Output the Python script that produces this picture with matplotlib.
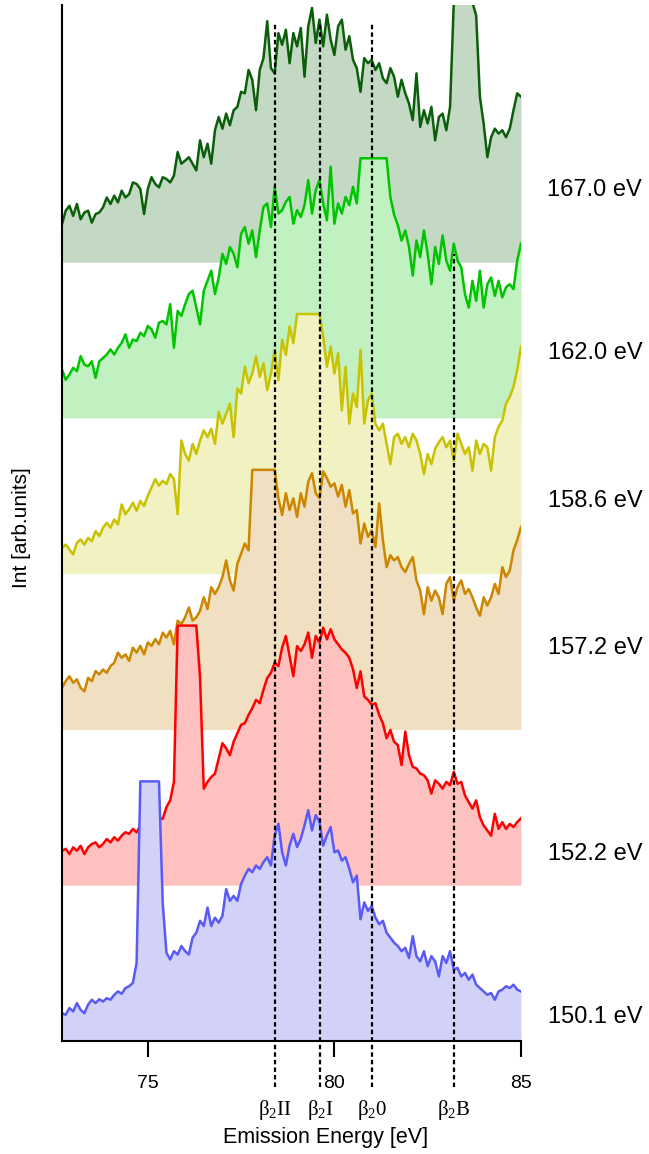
import numpy as np
import matplotlib
matplotlib.use("Agg")
import matplotlib.pyplot as plt
from matplotlib.transforms import blended_transform_factory

plt.rcParams['font.family'] = ['Liberation Sans', 'DejaVu Sans']
plt.rcParams['mathtext.fontset'] = 'custom'
plt.rcParams['mathtext.rm'] = 'Liberation Serif'
plt.rcParams['mathtext.it'] = 'Liberation Serif:italic'
plt.rcParams['mathtext.bf'] = 'Liberation Serif:bold'

# Emission energy channels [eV]
energy = np.round(np.linspace(72.7, 85.0, 124), 2)

# Excitation energies of the stacked spectra, bottom to top
excitation = ['150.1 eV', '152.2 eV', '157.2 eV', '158.6 eV', '162.0 eV', '167.0 eV']

# Intensities (arb. units, detector saturates at 100)
I_150_1 = [10.7, 10.1, 12.7, 11.4, 14.6, 12.0, 10.7, 14.0, 15.9, 14.6,
           16.1, 15.2, 16.5, 15.9, 17.8, 19.1, 18.2, 20.4, 21.1, 22.4,
           30.1, 100, 100, 100, 100, 100, 100, 53.0, 34.0, 31.4,
           34.6, 33.3, 36.6, 34.6, 33.3, 39.8, 41.7, 46.3, 44.3, 51.4,
           44.3, 47.5, 45.6, 48.2, 58.5, 54.0, 55.9, 54.0, 60.5, 63.7,
           66.3, 65.0, 67.6, 66.3, 68.9, 70.8, 67.6, 79.2, 83.7, 72.7,
           67.6, 75.3, 79.8, 74.7, 77.9, 83.1, 88.9, 81.1, 87.0, 84.4,
           75.3, 79.2, 82.4, 72.7, 73.4, 69.5, 70.8, 66.3, 61.1, 63.7,
           46.9, 53.4, 50.1, 52.1, 47.5, 45.0, 46.3, 41.7, 39.8, 37.9,
           36.6, 34.6, 35.9, 32.0, 40.4, 32.7, 30.7, 34.6, 28.8, 32.7,
           30.7, 24.9, 32.7, 30.1, 34.6, 27.5, 28.2, 24.9, 26.2, 23.6,
           25.6, 21.7, 20.4, 19.1, 17.8, 18.5, 15.9, 19.1, 19.8, 21.1,
           20.4, 21.7, 19.8, 19.1]

I_152_2 = [13.3, 14.0, 12.0, 14.6, 13.3, 15.2, 12.0, 14.6, 15.9, 16.5,
           14.6, 15.9, 17.8, 16.5, 18.5, 17.2, 19.1, 20.4, 19.8, 21.7,
           20.4, 23.0, 23.6, 24.3, 24.9, 26.2, 25.8, 25.6, 30.1, 32.7,
           39.8, 100, 100, 100, 100, 100, 100, 80.0, 37.2, 39.8,
           41.7, 43.0, 48.8, 54.7, 52.7, 50.1, 55.3, 58.5, 61.8, 62.4,
           65.6, 68.2, 71.4, 70.1, 75.3, 79.8, 81.8, 85.7, 84.4, 91.5,
           96.0, 88.2, 80.5, 92.1, 90.2, 92.8, 97.3, 87.6, 96.0, 93.4,
           99.2, 94.7, 98.6, 94.7, 92.8, 90.8, 89.5, 87.6, 83.1, 76.0,
           82.4, 72.7, 71.4, 69.5, 70.1, 65.6, 62.4, 56.6, 59.8, 55.3,
           54.0, 46.3, 59.2, 50.1, 45.6, 45.0, 43.0, 42.4, 40.4, 35.3,
           40.4, 39.1, 37.2, 39.8, 38.5, 43.7, 39.1, 39.8, 34.6, 32.0,
           29.5, 32.7, 26.2, 23.0, 21.1, 19.1, 27.5, 21.7, 24.3, 21.7,
           23.6, 22.4, 24.3, 25.8]

I_157_2 = [16.0, 18.6, 20.5, 18.0, 19.3, 16.0, 14.7, 19.9, 18.6, 22.5,
           21.2, 23.1, 21.8, 24.4, 25.7, 29.6, 27.6, 28.9, 26.4, 31.5,
           29.6, 32.2, 28.9, 33.5, 32.2, 34.8, 32.8, 37.3, 35.4, 38.0,
           32.8, 41.9, 40.6, 43.2, 47.0, 41.9, 43.2, 45.7, 50.9, 46.4,
           54.8, 52.2, 54.8, 58.7, 65.1, 57.4, 53.5, 63.8, 67.7, 71.6,
           69.0, 100, 100, 100, 100, 100, 100, 100, 89.0, 82.6,
           91.0, 84.5, 89.0, 81.9, 91.0, 85.8, 95.5, 98.7, 91.0, 89.0,
           99.4, 96.8, 93.5, 94.8, 89.7, 94.2, 85.8, 92.2, 83.2, 84.5,
           71.6, 79.3, 74.2, 76.7, 70.3, 87.1, 72.9, 62.5, 67.1, 65.1,
           66.4, 62.5, 60.6, 63.8, 66.4, 57.4, 53.5, 44.4, 54.8, 49.6,
           53.5, 50.9, 44.4, 56.1, 58.7, 49.6, 54.8, 57.4, 52.2, 54.1,
           50.9, 47.0, 43.8, 50.9, 47.7, 50.9, 56.1, 52.2, 62.5, 58.7,
           61.2, 69.0, 72.9, 78.0]

I_158_6 = [9.9, 11.2, 9.3, 7.4, 11.9, 13.2, 11.2, 13.8, 12.5, 16.4,
           14.5, 17.7, 19.6, 17.7, 20.9, 19.0, 26.7, 22.9, 24.8, 27.4,
           24.2, 28.0, 26.1, 30.0, 33.2, 36.4, 33.9, 35.8, 34.5, 38.4,
           36.4, 22.9, 51.3, 46.1, 43.5, 50.0, 46.1, 51.3, 55.2, 52.6,
           55.8, 50.0, 62.3, 57.8, 61.6, 65.5, 52.6, 71.3, 69.4, 79.7,
           73.3, 77.1, 83.6, 75.8, 81.0, 70.7, 77.1, 86.2, 74.5, 90.1,
           84.2, 95.2, 88.8, 100, 100, 100, 100, 100, 100, 100,
           91.3, 79.7, 87.5, 77.1, 84.9, 62.9, 79.7, 57.8, 69.4, 64.2,
           86.2, 57.8, 66.8, 69.4, 57.8, 55.2, 57.8, 50.0, 42.2, 52.6,
           53.9, 50.0, 52.6, 48.7, 53.9, 51.3, 46.1, 38.4, 46.1, 42.2,
           48.1, 50.6, 52.6, 48.7, 51.3, 43.5, 53.9, 50.0, 46.1, 48.7,
           39.7, 51.3, 46.1, 50.0, 48.7, 39.7, 52.6, 56.5, 59.0, 65.5,
           68.1, 72.0, 78.4, 87.5]

I_162_0 = [18.6, 14.7, 16.7, 19.3, 18.0, 23.8, 20.5, 19.9, 21.8, 15.4,
           21.8, 23.1, 24.4, 26.4, 24.4, 27.0, 28.9, 32.2, 27.0, 30.2,
           29.6, 32.8, 31.5, 35.4, 34.1, 30.9, 36.7, 37.3, 36.0, 43.8,
           27.0, 41.2, 39.3, 43.8, 47.7, 49.0, 42.5, 36.0, 49.0, 52.8,
           56.7, 47.7, 54.1, 63.2, 59.3, 65.8, 63.2, 58.0, 70.9, 73.5,
           67.1, 72.2, 61.9, 72.2, 81.3, 82.6, 73.5, 89.0, 78.7, 80.0,
           83.2, 85.1, 74.8, 80.0, 77.4, 81.9, 91.6, 78.7, 87.7, 91.6,
           82.6, 76.1, 96.8, 74.8, 82.6, 78.7, 85.1, 81.9, 89.0, 82.6,
           100, 100, 100, 100, 100, 100, 100, 100, 85.1, 78.3,
           74.2, 68.3, 72.2, 65.8, 54.8, 68.3, 61.9, 72.2, 63.2, 51.5,
           65.8, 59.3, 70.3, 60.6, 56.7, 67.1, 60.6, 58.0, 47.7, 42.5,
           52.8, 45.1, 56.7, 42.5, 51.5, 54.1, 47.0, 52.8, 46.4, 50.3,
           51.5, 49.6, 60.6, 67.1]

I_167_0 = [14.6, 19.8, 21.7, 17.8, 22.4, 16.5, 19.1, 19.8, 15.2, 18.5,
           19.1, 21.1, 24.9, 22.4, 25.6, 23.0, 27.5, 24.9, 26.2, 30.7,
           30.1, 28.2, 18.5, 28.2, 32.7, 30.1, 28.8, 32.7, 32.0, 30.7,
           33.3, 42.4, 37.9, 39.1, 40.4, 37.9, 35.3, 46.9, 40.4, 45.6,
           37.9, 50.8, 55.9, 51.4, 57.2, 52.7, 58.5, 59.8, 65.6, 65.0,
           74.0, 70.2, 58.5, 74.0, 78.6, 92.8, 74.7, 72.7, 88.2, 83.7,
           89.5, 76.6, 88.2, 83.1, 90.2, 71.4, 90.8, 97.9, 84.4, 93.4,
           83.1, 95.3, 85.7, 79.8, 90.8, 93.4, 81.8, 87.0, 77.9, 74.7,
           65.6, 78.6, 76.6, 77.9, 74.0, 76.6, 70.8, 68.9, 74.7, 71.4,
           63.7, 70.2, 65.0, 61.1, 54.7, 72.7, 52.1, 58.5, 53.4, 59.8,
           46.9, 55.9, 57.2, 50.8, 59.8, 100, 100, 100, 100, 100,
           100, 95.0, 63.7, 53.4, 40.4, 48.1, 51.4, 49.5, 50.8, 48.1,
           51.4, 58.5, 65.0, 63.7]

spectra = [I_150_1, I_152_2, I_157_2, I_158_6, I_162_0, I_167_0]

# Spectral features marked by dashed lines
feature_names = [r'$\mathrm{\beta_{2}II}$', r'$\mathrm{\beta_{2}I}$',
                 r'$\mathrm{\beta_{2}0}$', r'$\mathrm{\beta_{2}B}$']
feature_energies = [78.4, 79.62, 81.0, 83.2]

# Axis ticks
x_ticks = [75, 80, 85]
x_tick_labels = ['75', '80', '85']

# Layout and styling
offset_step = 60
line_colors = ['#5a5af5', '#ff0000', '#cc8600', '#c9c200', '#00c400', '#0b5f0b']
fill_colors = ['#d2d2f9', '#ffc0c0', '#f0dfc0', '#f1f1c1', '#c1f1c1', '#c4d9c4']
label_y = [9.3, 72.2, 151.4, 208.1, 264.9, 327.8]
feature_tops = [392, 392, 392, 303]
feature_bottom = -17.8

fig = plt.figure(figsize=(6.49, 11.54), dpi=100)
ax = fig.add_axes([0.0955, 0.0979, 0.7072, 0.8977])

label_trans = blended_transform_factory(ax.transAxes, ax.transData)
n = len(spectra)
for i in reversed(range(n)):
    base = i * offset_step
    y = base + np.asarray(spectra[i], dtype=float)
    z = 2 * (n - i)
    ax.fill_between(energy, base, y, color=fill_colors[i], lw=0, zorder=z)
    ax.plot(energy, y, color=line_colors[i], lw=1.8, zorder=z + 0.5,
            solid_joinstyle='round')
    ax.text(1.161, label_y[i], excitation[i], transform=label_trans,
            ha='center', va='center', fontsize=17, clip_on=False)

ax.vlines(feature_energies, feature_bottom, feature_tops, colors='black',
          linestyles=(0, (2.0, 1.4)), lw=1.6, zorder=30, clip_on=False)
for name, e in zip(feature_names, feature_energies):
    ax.text(e, -0.0666, name, transform=ax.get_xaxis_transform(),
            ha='center', va='center', fontsize=15, clip_on=False)

ax.set_xlim(72.7, 85.0)
ax.set_ylim(0, 399)
ax.set_xticks(x_ticks, labels=x_tick_labels)
ax.set_yticks([])
ax.tick_params(axis='x', direction='out', length=11.5, width=1.5, pad=13,
               labelsize=14)
for side in ('top', 'right'):
    ax.spines[side].set_visible(False)
for side in ('left', 'bottom'):
    ax.spines[side].set_linewidth(1.5)
    ax.spines[side].set_zorder(40)

ax.set_xlabel('Emission Energy [eV]', fontsize=15.5, va='center')
ax.xaxis.set_label_coords(0.575, -0.0927)
ax.set_ylabel('Int [arb.units]', fontsize=15, va='center', ha='center',
              rotation_mode='default')
ax.yaxis.set_label_coords(-0.088, 0.496)

fig.savefig('out.png', dpi=100, facecolor='white')
